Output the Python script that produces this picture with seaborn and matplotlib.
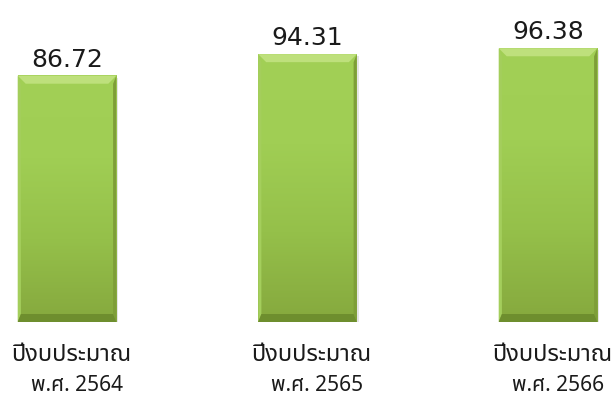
import numpy as np
import pandas as pd
import matplotlib
matplotlib.use('Agg')
import matplotlib.pyplot as plt
from matplotlib import font_manager
from matplotlib.ft2font import FT2Font
from matplotlib.colors import LinearSegmentedColormap
from matplotlib.patches import Polygon
import seaborn as sns

# data
years = ['2564', '2565', '2566']
values = [86.72, 94.31, 96.38]
line1 = 'ปีงบประมาณ'
line2_prefix = 'พ.ศ. '


def find_thai_font():
    # pick any installed family that has Thai glyphs
    preferred = ['Noto Sans Thai', 'Noto Sans Thai UI', 'Loma', 'Garuda', 'Tlwg Typo', 'Norasi']
    found = {}
    for f in font_manager.fontManager.ttflist:
        try:
            cmap = FT2Font(f.fname).get_charmap()
        except Exception:
            continue
        if 0x0E1B in cmap and 0x0E35 in cmap:
            found[f.name] = f.fname
    for p in preferred:
        if p in found:
            return p
    if found:
        return sorted(found)[0]
    return 'DejaVu Sans'


sns.set_theme(style='white')
thai_font = find_thai_font()
plt.rcParams['font.family'] = [thai_font, 'DejaVu Sans']

W, H = 611, 402
fig = plt.figure(figsize=(W / 100, H / 100), dpi=100)
# axes: baseline at y=323px from top, bar centres 67/308/548 px
px_x = 240.5
px_y = 2.84
ax = fig.add_axes([0, 79 / H, 1, 323 / H])

df = pd.DataFrame({'year': years, 'value': values})
sns.barplot(data=df, x='year', y='value', color='#9CCB50', width=0.41,
            ax=ax, saturation=1, edgecolor='none')
ax.set_xlim(-67 / px_x, (W - 67) / px_x)
ax.set_ylim(0, 323 / px_y)
ax.axis('off')

grad = LinearSegmentedColormap.from_list('g', ['#86A93E', '#95C04A', '#A0CE54', '#A2D056'])
bx = 8 / px_x
by = 8 / px_y
for p, v, yr in zip(ax.patches, values, years):
    x0, y0 = p.get_x(), p.get_y()
    w, h = p.get_width(), p.get_height()
    x1, y1 = x0 + w, y0 + h
    # soft shadow
    ax.add_patch(Polygon([[x0 + 2 / px_x, y0 - 2 / px_y], [x1 + 2 / px_x, y0 - 2 / px_y],
                          [x1 + 2 / px_x, y1 - 2 / px_y], [x0 + 2 / px_x, y1 - 2 / px_y]],
                         closed=True, facecolor='#d4d4d4', edgecolor='none', zorder=1, alpha=0.6))
    p.set_zorder(2)
    # gradient face
    ax.imshow(np.linspace(0, 1, 100).reshape(-1, 1), extent=[x0, x1, y0, y1], origin='lower',
              cmap=grad, aspect='auto', zorder=3)
    # bevel edges
    ax.add_patch(Polygon([[x0, y1], [x1, y1], [x1 - bx, y1 - by], [x0 + bx, y1 - by]],
                         closed=True, facecolor='#BEE07C', edgecolor='none', zorder=4))
    ax.add_patch(Polygon([[x0, y0], [x0, y1], [x0 + bx * 0.4, y1 - by], [x0 + bx * 0.4, y0 + by]],
                         closed=True, facecolor='#A4CE5C', edgecolor='none', zorder=4))
    ax.add_patch(Polygon([[x1, y0], [x1, y1], [x1 - bx * 0.4, y1 - by], [x1 - bx * 0.4, y0 + by]],
                         closed=True, facecolor='#7E9E38', edgecolor='none', zorder=4))
    ax.add_patch(Polygon([[x0, y0], [x1, y0], [x1 - bx * 0.4, y0 + by], [x0 + bx * 0.4, y0 + by]],
                         closed=True, facecolor='#6E8E2E', edgecolor='none', zorder=4))
    cx = x0 + w / 2
    ax.text(cx, y1 + 5 / px_y, f'{v:.2f}', ha='center', va='bottom', fontsize=18,
            color='#1a1a1a', family=['DejaVu Sans'], zorder=5)
    ax.text(cx + 4 / px_x, -32 / px_y, line1, ha='center', va='center', fontsize=17,
            color='#1a1a1a', clip_on=False)
    ax.text(cx + 10 / px_x, -63 / px_y, line2_prefix + yr, ha='center', va='center', fontsize=15,
            color='#1a1a1a', clip_on=False)

fig.savefig('out.png', dpi=100)
